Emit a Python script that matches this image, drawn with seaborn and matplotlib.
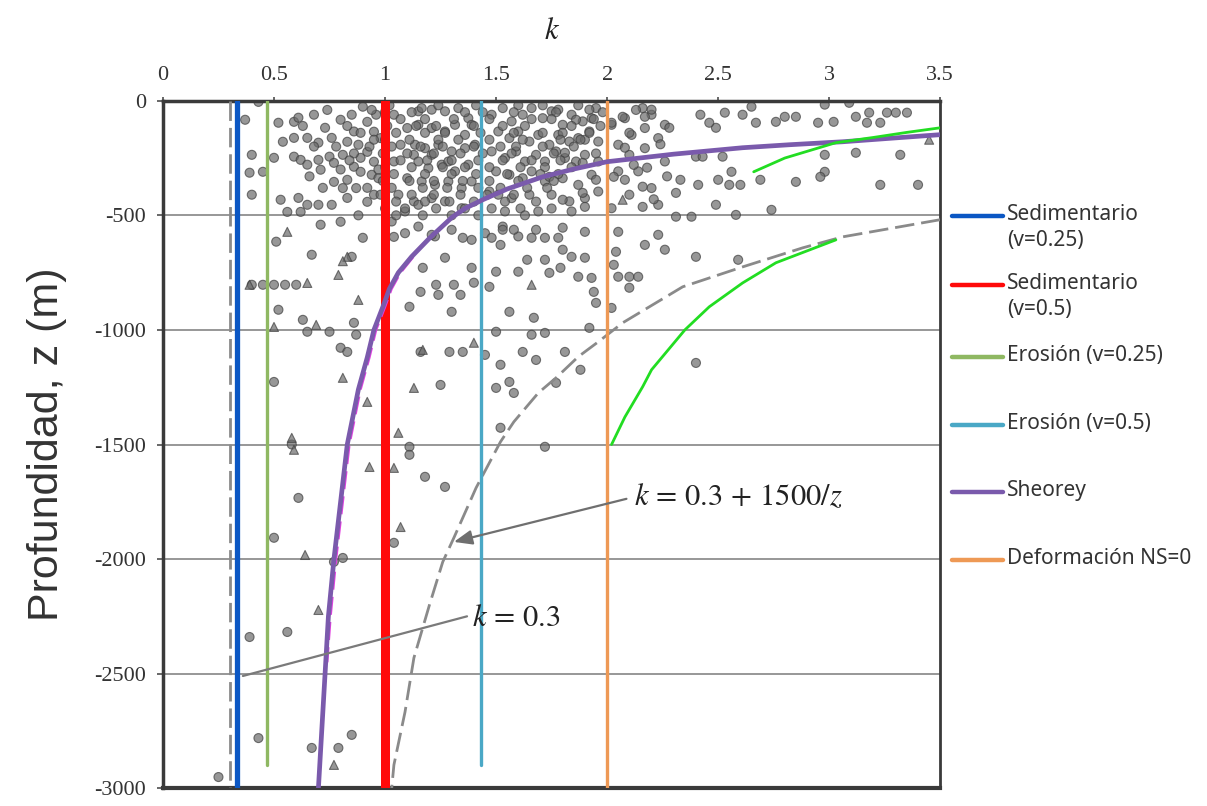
import matplotlib
matplotlib.use("Agg")
import matplotlib.pyplot as plt
from matplotlib.lines import Line2D
import pandas as pd
import seaborn as sns

# ---- axes ticks ----
k_ticks = [0, 0.5, 1, 1.5, 2, 2.5, 3, 3.5]
k_tick_labels = ["0", "0.5", "1", "1.5", "2", "2.5", "3", "3.5"]
z_ticks = [0, -500, -1000, -1500, -2000, -2500, -3000]
z_tick_labels = ["0", "-500", "-1000", "-1500", "-2000", "-2500", "-3000"]

# ---- measured stress ratios k vs depth z (circles) ----
circ_k = [
    0.52, 0.59, 0.61, 0.68, 0.73, 0.80, 0.85, 0.90, 0.92, 0.65, 0.70, 0.59, 0.54, 0.59, 0.62, 0.65,
    0.70, 0.75, 0.71, 0.77, 0.81, 0.83, 0.88, 0.89, 0.92, 0.95, 0.86, 0.89, 0.94, 0.83, 0.77, 0.95,
    0.76, 0.61, 0.65, 0.70, 0.76, 0.83, 0.92, 0.95, 0.53, 0.56, 0.62, 0.71, 0.80, 0.40, 0.39, 0.40,
    0.50, 0.45, 0.37, 0.43, 0.96, 0.98, 0.86, 0.97, 0.81, 0.87,
    1.04, 1.10, 1.07, 1.13, 1.04, 1.10, 1.06, 1.13, 1.09, 1.15, 1.03,
    1.165, 1.21, 1.27, 1.33, 1.375, 1.15, 1.21, 1.27, 1.315, 1.36, 1.135, 1.18, 1.24, 1.30, 1.36,
    1.15, 1.195, 1.255, 1.315, 1.375, 1.165, 1.225, 1.285, 1.345, 1.21, 1.27, 1.15, 1.345, 1.39,
    1.405, 1.39, 1.285, 1.21,
    1.48, 1.53, 1.57, 1.62, 1.66, 1.71, 1.75, 1.80, 1.84, 1.89, 1.93, 1.51, 1.56, 1.60, 1.65, 1.69,
    1.74, 1.78, 1.83, 1.87, 1.92, 1.96, 1.48, 1.54, 1.59, 1.63, 1.68, 1.72, 1.77, 1.81, 1.86, 1.90,
    1.50, 1.56, 1.62, 1.66, 1.72, 1.80, 1.87, 1.93, 1.51, 1.57, 1.65, 1.75, 1.83, 1.90, 1.96, 1.54,
    1.69, 1.84, 1.47, 1.96, 1.95,
    2.02, 2.08, 2.11, 2.17, 2.20, 2.05, 2.10, 2.17, 2.23, 2.26, 2.05, 2.14, 2.20, 2.10, 2.02, 2.23,
    2.16, 2.26,
    1.09, 1.15, 1.225, 1.30, 1.45, 1.53, 1.60, 1.68, 1.53, 1.58, 1.66, 1.72, 1.80, 1.90, 1.48, 1.21,
    0.51, 0.67, 0.85, 0.90, 0.40, 0.45, 0.50, 0.55, 0.60, 0.52, 0.63, 0.65, 0.75, 0.86, 0.87, 0.80,
    0.83, 0.50, 0.58, 1.11, 1.16, 1.11, 1.04, 1.11, 1.18, 1.27, 0.61, 1.04, 0.50, 0.77, 0.81, 0.56,
    0.39, 0.43, 0.67, 0.79, 0.85, 0.25, 1.72,
    1.17, 1.27, 1.23, 1.24, 1.16, 1.31, 1.34, 1.39, 1.40, 1.30, 1.47, 1.50, 1.39, 1.35, 1.52, 1.60,
    1.64, 1.72, 1.74, 1.79, 1.56, 1.67, 1.50, 1.66, 1.72, 1.62, 1.68, 1.81, 1.88, 1.52, 1.56, 1.50,
    1.58, 1.77, 1.52, 1.29, 1.35, 1.25, 1.45, 1.78, 1.80, 1.84, 1.90, 1.87, 1.93, 1.94, 1.95, 2.02,
    1.92, 2.03, 2.04, 2.05, 2.10, 2.14, 2.10, 2.17, 2.23, 2.26, 2.40, 2.40, 2.05,
    3.23, 3.40, 3.12, 3.32, 2.98, 2.98, 2.96, 2.85, 2.74, 2.69, 2.56, 2.55, 2.60, 2.50, 2.49, 2.41,
    2.33, 2.31, 2.40, 2.43, 2.52, 2.58, 2.38, 2.31, 2.59, 3.12, 3.18, 3.26, 3.30, 3.35, 3.09, 2.98,
    2.95, 3.02, 2.85, 2.80, 2.76, 2.67, 2.61, 2.65, 2.53, 2.49, 2.46, 2.42, 3.23, 3.17, 2.28, 2.17,
    2.20, 2.07, 2.10, 2.08, 2.16, 2.03, 2.16, 2.18, 2.08, 2.02, 1.90, 1.81, 1.89, 1.95, 1.89, 1.80,
    1.90, 1.74, 1.80, 1.86, 1.92, 1.78,
    # dense shallow core
    1.02, 1.24, 1.41, 1.60, 1.71, 1.87,
    1.00, 1.12, 1.36, 1.44, 1.58, 1.77, 1.98,
    1.07, 1.18, 1.31, 1.47, 1.66, 1.75, 1.94,
    1.01, 1.14, 1.23, 1.40, 1.53, 1.63, 1.84, 1.97,
    1.05, 1.18, 1.27, 1.43, 1.58, 1.71, 1.92,
    1.00, 1.11, 1.24, 1.33, 1.47, 1.62, 1.79, 1.88,
    1.03, 1.16, 1.26, 1.40, 1.52, 1.59, 1.71, 1.85,
    0.99, 1.10, 1.22, 1.34, 1.44, 1.57, 1.76, 1.95,
    1.07, 1.19, 1.30, 1.42, 1.53, 1.66, 1.79,
    1.00, 1.12, 1.26, 1.36, 1.47, 1.61, 1.72, 1.84,
    1.04, 1.18, 1.30, 1.41, 1.55, 1.70, 1.78,
    0.99, 1.11, 1.22, 1.35, 1.47, 1.60, 1.76,
    1.03, 1.17, 1.28, 1.42, 1.52, 1.64, 1.73,
    0.98, 1.12, 1.22, 1.34, 1.46, 1.58,
    1.05, 1.18, 1.29, 1.40, 1.54, 1.68,
    1.00, 1.09, 1.23, 1.36, 1.48, 1.61, 1.75,
    1.05, 1.17, 1.30, 1.42, 1.63,
    0.74, 0.94, 0.63, 0.83, 0.89, 0.68, 0.78, 0.93, 0.80, 0.97, 0.66, 0.72, 0.92, 0.88, 0.86, 0.84,
    0.95, 2.13, 2.24, 2.12, 2.27, 2.21,
]
circ_z = [
    -96, -92, -74, -61, -118, -83, -61, -26, -92, -162, -183, -162, -179, -244, -258, -279,
    -258, -244, -301, -271, -236, -179, -192, -249, -223, -266, -288, -310, -323, -345, -354, -135,
    -162, -424, -454, -454, -454, -424, -441, -410, -432, -485, -485, -541, -528, -236, -314, -410,
    -249, -310, -83, -5, -61, -163, -134, -338, -381, -381,
    -61, -119, -192, -236, -265, -338, -410, -439, -483, -46, -527,
    -32, -39, -46, -32, -76, -105, -119, -134, -105, -149, -192, -207, -192, -221, -207,
    -265, -294, -279, -308, -279, -352, -367, -352, -381, -425, -439, -454, -469, -352,
    -192, -105, -265, -236,
    -61, -32, -90, -61, -32, -76, -46, -105, -61, -90, -76, -134, -163, -134, -178, -149,
    -192, -149, -178, -163, -134, -178, -221, -250, -221, -265, -236, -265, -221, -250, -265, -236,
    -308, -323, -338, -308, -352, -338, -367, -323, -410, -425, -410, -410, -439, -425, -396, -483,
    -483, -483, -396, -265, -32,
    -105, -76, -149, -119, -61, -192, -236, -207, -163, -105, -308, -308, -381, -410, -469, -454,
    -32, -265,
    -578, -549, -592, -563, -578, -549, -592, -563, -563, -563, -598, -598, -554, -572, -598, -585,
    -615, -672, -681, -598, -803, -803, -803, -803, -803, -912, -956, -1008, -1008, -969, -1021, -1078,
    -1096, -1227, -1500, -1510, -1096, -899, -594, -1545, -1641, -1685, -1733, -1929, -1907, -2012, -1995, -2318,
    -2340, -2781, -2824, -2824, -2767, -2951, -1510,
    -729, -685, -803, -847, -834, -803, -847, -729, -794, -921, -812, -746, -607, -598, -629, -746,
    -694, -694, -751, -729, -921, -947, -1008, -1021, -1013, -1096, -1131, -1096, -1174, -1152, -1227, -1253,
    -1275, -1231, -1427, -1096, -1096, -1240, -1109, -598, -650, -681, -685, -768, -773, -834, -882, -904,
    -991, -716, -659, -768, -768, -768, -816, -629, -585, -650, -681, -1144, -572,
    -367, -367, -227, -236, -236, -310, -332, -354, -476, -345, -310, -367, -367, -345, -454, -367,
    -345, -402, -244, -244, -244, -498, -506, -506, -694, -70, -52, -52, -52, -52, -9, -17,
    -96, -92, -70, -70, -92, -96, -61, -26, -52, -118, -96, -61, -96, -96, -118, -70,
    -39, -70, -140, -345, -375, -332, -463, -292, -205, -96, -170, -227, -271, -345, -402, -432,
    -463, -332, -140, -83, -39, -39,
    # dense shallow core
    -20, -20, -20, -20, -20, -20,
    -50, -50, -50, -50, -50, -50, -50,
    -80, -80, -80, -80, -80, -80, -80,
    -110, -110, -110, -110, -110, -110, -110, -110,
    -140, -140, -140, -140, -140, -140, -140,
    -170, -170, -170, -170, -170, -170, -170, -170,
    -200, -200, -200, -200, -200, -200, -200, -200,
    -230, -230, -230, -230, -230, -230, -230, -230,
    -260, -260, -260, -260, -260, -260, -260,
    -290, -290, -290, -290, -290, -290, -290, -290,
    -320, -320, -320, -320, -320, -320, -320,
    -350, -350, -350, -350, -350, -350, -350,
    -380, -380, -380, -380, -380, -380, -380,
    -410, -410, -410, -410, -410, -410,
    -440, -440, -440, -440, -440, -440,
    -470, -470, -470, -470, -470, -470, -470,
    -500, -500, -500, -500, -500,
    -40, -40, -110, -110, -140, -200, -200, -200, -300, -300, -330, -380, -380, -500, -230, -260,
    -170, -40, -190, -280, -330, -430,
]

# ---- measured stress ratios (triangles) ----
tri_k = [0.56, 0.83, 0.79, 0.65, 0.39, 0.88, 0.69, 0.50, 0.81, 0.92, 0.58, 1.06, 1.13, 0.59,
         0.93, 1.04, 1.07, 0.64, 0.70, 0.77, 1.66, 1.17, 1.40, 2.07, 3.45, 0.81]
tri_z = [-572, -681, -760, -795, -803, -869, -978, -987, -1209, -1314, -1471, -1449, -1253, -1523,
         -1598, -1602, -1860, -1982, -2222, -2898, -803, -1087, -1056, -432, -170, -700]

# ---- constant-k models (k value, depth of the lower end) ----
model_labels = ["Sedimentario\n(v=0.25)", "Sedimentario\n(v=0.5)", "Erosión (v=0.25)",
                "Erosión (v=0.5)", "Sheorey", "Deformación NS=0"]
model_colors = ["#0b57c4", "#ff0a0a", "#8fb862", "#4aa8c6", "#7a5aac", "#ee9955"]
sed_025_k, sed_025_zend = 0.333, -3000
sed_050_k, sed_050_zend = 1.0, -3000
ero_025_k, ero_025_zend = 0.47, -2900
ero_050_k, ero_050_zend = 1.43, -2900
ns0_k, ns0_zend = 2.0, -3000

# ---- Sheorey curve ----
sheorey_k = [3.50, 3.30, 3.06, 2.82, 2.61, 2.30, 2.00, 1.85, 1.71, 1.55, 1.44, 1.36, 1.30, 1.20,
             1.12, 1.06, 1.02, 0.99, 0.95, 0.92, 0.88, 0.83, 0.80, 0.77, 0.745, 0.73, 0.715, 0.70]
sheorey_z = [-148, -162, -179, -192, -205, -233, -266, -298, -332, -385, -432, -470, -510, -600,
             -680, -750, -820, -900, -1000, -1120, -1260, -1500, -1750, -2000, -2250, -2500, -2750,
             -3000]

# ---- dashed fit lying along the Sheorey curve ----
fit_k = [1.125, 1.067, 1.027, 0.997, 0.957, 0.927, 0.887, 0.837, 0.807, 0.777, 0.752, 0.737]
fit_z = [-680, -750, -820, -900, -1000, -1120, -1260, -1500, -1750, -2000, -2250, -2450]

# ---- bounds of the measured data ----
lower_bound_k = [0.30, 0.30]
lower_bound_z = [0, -3000]
upper_bound_k = [3.50, 3.06, 2.88, 2.61, 2.34, 2.07, 1.96, 1.87, 1.77, 1.69, 1.58, 1.52, 1.41,
                 1.31, 1.26, 1.20, 1.13, 1.09, 1.04, 1.03]
upper_bound_z = [-519, -594, -642, -725, -812, -969, -1052, -1117, -1209, -1275, -1401, -1488,
                 -1689, -1907, -2012, -2200, -2431, -2667, -2898, -3000]

# ---- green curves ----
green_a_k = [2.66, 2.80, 2.92, 3.03, 3.20, 3.35, 3.50]
green_a_z = [-310, -250, -215, -183, -160, -138, -118]
green_b_k = [2.02, 2.08, 2.16, 2.20, 2.35, 2.46, 2.61, 2.76, 3.03]
green_b_z = [-1500, -1380, -1248, -1174, -1000, -899, -795, -707, -607]

# ---------------------------------------------------------------
sns.set_theme(style="white")
plt.rcParams["axes.unicode_minus"] = False
plt.rcParams["mathtext.fontset"] = "stix"

fig = plt.figure(figsize=(12.07, 8.06), dpi=100)
ax = fig.add_axes([0.135, 0.022, 0.644, 0.853])

pts = pd.concat([
    pd.DataFrame({"k": circ_k, "z": circ_z, "tipo": "c"}),
    pd.DataFrame({"k": tri_k, "z": tri_z, "tipo": "t"}),
], ignore_index=True)

for zt in z_ticks[1:-1]:
    ax.axhline(zt, color="#7a7a7a", lw=1.1, zorder=1)

sns.scatterplot(data=pts, x="k", y="z", style="tipo", markers={"c": "o", "t": "^"},
                s=42, color="#6b6b6b", edgecolor="#3f3f3f", linewidth=0.8, alpha=0.7,
                legend=False, ax=ax, zorder=2)

dash_kw = dict(color="#8a8a8a", lw=2.0, dashes=(7, 2.5), zorder=3)
ax.plot(lower_bound_k, lower_bound_z, **dash_kw)
ax.plot(upper_bound_k, upper_bound_z, **dash_kw)

ax.plot([sed_025_k] * 2, [0, sed_025_zend], color=model_colors[0], lw=3.8, zorder=4)
ax.plot([ero_025_k] * 2, [0, ero_025_zend], color=model_colors[2], lw=2.4, zorder=4)
ax.plot([sed_050_k] * 2, [0, sed_050_zend], color=model_colors[1], lw=6.5, zorder=4)
ax.plot([ero_050_k] * 2, [0, ero_050_zend], color=model_colors[3], lw=2.4, zorder=4)
ax.plot([ns0_k] * 2, [0, ns0_zend], color=model_colors[5], lw=2.4, zorder=4)

fit = pd.DataFrame({"k": fit_k, "z": fit_z})
sns.lineplot(data=fit, x="k", y="z", sort=False, estimator=None, ax=ax,
             color="#e040e0", lw=2.6, zorder=5).lines[-1].set_dashes((5, 2))
sh = pd.DataFrame({"k": sheorey_k, "z": sheorey_z})
sns.lineplot(data=sh, x="k", y="z", sort=False, estimator=None, ax=ax,
             color=model_colors[4], lw=3.4, zorder=6)

ax.plot(green_a_k, green_a_z, color="#22dd22", lw=2.0, zorder=6)
ax.plot(green_b_k, green_b_z, color="#22dd22", lw=2.0, zorder=6)

# annotations
ax.annotate(r"$k\,=\,0.3$", xy=(0.36, -2510), xytext=(1.39, -2257),
            fontsize=22, color="#222222", va="center", ha="left",
            arrowprops=dict(arrowstyle="-", color="#7a7a7a", lw=1.6,
                            relpos=(0, 0.6), shrinkA=1, shrinkB=0), zorder=7)
ax.annotate(r"$k\,=\,0.3\,+\,1500/z$", xy=(1.31, -1925), xytext=(2.12, -1729),
            fontsize=22, color="#222222", va="center", ha="left",
            arrowprops=dict(arrowstyle="-|>,head_length=0.5,head_width=0.2", color="#6f6f6f",
                            lw=1.6, relpos=(0, 0.5), shrinkA=3, shrinkB=0), zorder=7)

ax.set_xlim(0, 3.5)
ax.set_ylim(-3000, 0)
ax.xaxis.tick_top()
ax.xaxis.set_label_position("top")
ax.set_xticks(k_ticks)
ax.set_xticklabels(k_tick_labels, family="Liberation Serif", fontsize=16, color="#333333")
ax.set_yticks(z_ticks)
ax.set_yticklabels(z_tick_labels, family="Liberation Serif", fontsize=16, color="#333333")
ax.tick_params(axis="x", length=3, pad=8, colors="#555555", labelcolor="#333333")
ax.tick_params(axis="y", length=4, pad=8, colors="#555555", labelcolor="#333333", left=True)
ax.set_xlabel("$k$", fontsize=22, labelpad=20, color="#222222")
ax.set_ylabel("Profundidad, z (m)", family="Liberation Sans", fontsize=31, labelpad=20,
              color="#333333")
for side, w in [("top", 2.5), ("left", 2.5), ("bottom", 3.0), ("right", 2.0)]:
    ax.spines[side].set_color("#3a3a3a")
    ax.spines[side].set_linewidth(w)
    ax.spines[side].set_visible(True)

# legend outside on the right
leg_y = [0.732, 0.646, 0.557, 0.473, 0.390, 0.305]
for lab, col, y in zip(model_labels, model_colors, leg_y):
    fig.add_artist(Line2D([0.789, 0.831], [y, y], transform=fig.transFigure,
                          color=col, lw=3.2, solid_capstyle="round"))
    fig.text(0.834, y + 0.015, lab, transform=fig.transFigure, va="top", ha="left",
             family="Noto Sans", fontsize=15, color="#333333", linespacing=1.3)

fig.savefig("out.png", dpi=100)
